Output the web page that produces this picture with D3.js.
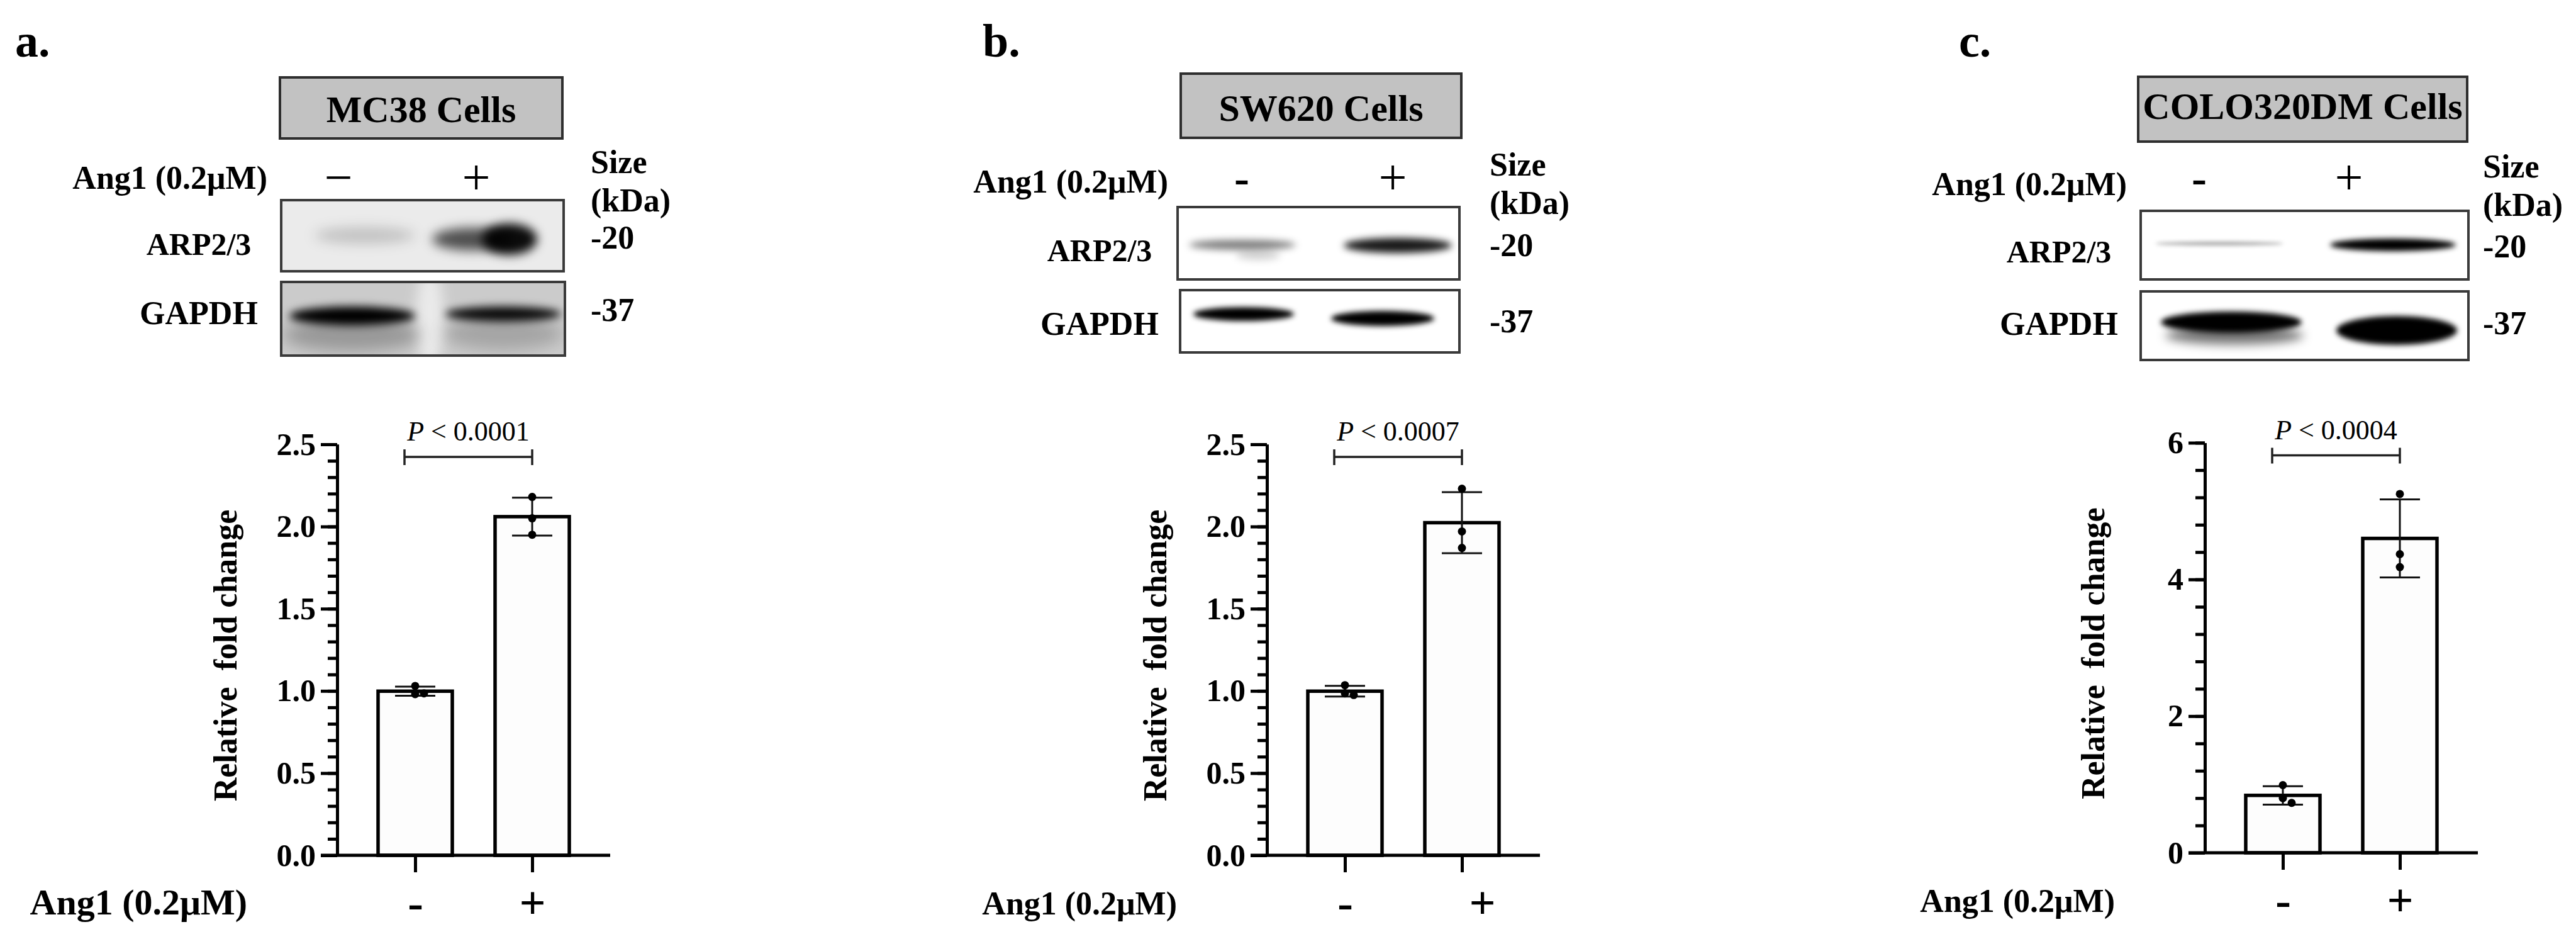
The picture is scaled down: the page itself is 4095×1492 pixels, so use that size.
<!DOCTYPE html>
<html>
<head>
<meta charset="utf-8">
<script src="https://cdn.jsdelivr.net/npm/d3@7"></script>
<style>
  body { margin: 0; background: #fff; }
  text { font-family: "Liberation Serif", "Times New Roman", serif; fill: #000; }
</style>
</head>
<body>
<div id="fig"></div>
<script>
// ---- data ----
var treatment = ["-", "+"];
var panelLetters = ["a.", "b.", "c."];
var cellLines = ["MC38 Cells", "SW620 Cells", "COLO320DM Cells"];
var pValues = ["0.0001", "0.0007", "0.0004"];
var sizeMarkers = ["-20", "-37"];
var blotRows = ["ARP2/3", "GAPDH"];
var doseLabel = "Ang1 (0.2\u03bcM)";
var yTitle = "Relative  fold change";

// replicate values (relative fold change), [control, Ang1]
var mc38Fold = [[1.03, 0.985, 0.98], [2.18, 2.05, 1.95]];
var sw620Fold = [[1.035, 0.985, 0.975], [2.23, 1.97, 1.87]];
var colo320Fold = [[0.99, 0.80, 0.73], [5.25, 4.37, 4.18]];

// y axis ticks
var mc38Ticks = [0, 0.5, 1, 1.5, 2, 2.5];
var sw620Ticks = [0, 0.5, 1, 1.5, 2, 2.5];
var colo320Ticks = [0, 2, 4, 6];

// band darkness on the blots, [control, Ang1]
var mc38Arp = [0.18, 0.95], mc38Gapdh = [1, 0.95];
var sw620Arp = [0.5, 0.9], sw620Gapdh = [1, 1];
var colo320Arp = [0.35, 1], colo320Gapdh = [1, 1];

// ---- layout ----
var W = 4095, H = 1492;
var panels = [
  { letterX: 24, axisX: 536, y0: 1359, yTop: 706, yMax: 2.5, minor: 0.1, fmt: ".1f",
    fold: mc38Fold, ticks: mc38Ticks, arp: mc38Arp, gapdh: mc38Gapdh,
    box: [445, 123, 894, 220], titleY: 194,
    laneX: [538, 757], laneSym: ["\u2212", "+"], laneBold: false,
    arpBox: [447, 318, 896, 431], gapBox: [447, 448, 898, 565],
    rowX: 316, angEnd: 425, angY: 300, arpY: 405, gapY: 515,
    sizeX: 939, sizeY: [275, 336, 395, 510],
    arpBg: "#ebebeb", gapBg: "#cbcbcb",
    arpBands: [
      { lane: 0, cx: 580, cy: 374, rx: 80, ry: 13, w: 1, blur: 10 },
      { lane: 1, cx: 752, cy: 380, rx: 65, ry: 18, w: 0.7, blur: 9 },
      { lane: 1, cx: 810, cy: 380, rx: 44, ry: 25, w: 1, blur: 8 }],
    gapBands: [
      { lane: 0, cx: 683, cy: 505, rx: 22, ry: 80, w: 0.6, blur: 10, fill: "#fff" },
      { lane: 0, cx: 560, cy: 532, rx: 110, ry: 26, w: 0.25, blur: 12 },
      { lane: 1, cx: 800, cy: 530, rx: 95, ry: 26, w: 0.2, blur: 12 },
      { lane: 0, cx: 560, cy: 502, rx: 100, ry: 15, w: 1, blur: 7 },
      { lane: 1, cx: 800, cy: 499, rx: 92, ry: 12, w: 1, blur: 7 }],
    xlabelSize: 58, plusDx: 0 },
  { letterX: 1562, axisX: 2014, y0: 1359, yTop: 706, yMax: 2.5, minor: 0.1, fmt: ".1f",
    fold: sw620Fold, ticks: sw620Ticks, arp: sw620Arp, gapdh: sw620Gapdh,
    box: [1877, 117, 2323, 219], titleY: 192,
    laneX: [1974, 2214], laneSym: ["-", "+"], laneBold: true,
    arpBox: [1872, 329, 2320, 444], gapBox: [1876, 461, 2320, 560],
    rowX: 1748, angEnd: 1857, angY: 306, arpY: 415, gapY: 532,
    sizeX: 2368, sizeY: [279, 340, 407, 528],
    arpBg: "#ffffff", gapBg: "#ffffff",
    arpBands: [
      { lane: 0, cx: 1975, cy: 389, rx: 85, ry: 8, w: 1, blur: 6 },
      { lane: 0, cx: 2000, cy: 406, rx: 35, ry: 7, w: 0.35, blur: 6 },
      { lane: 1, cx: 2222, cy: 390, rx: 86, ry: 12, w: 1, blur: 6 }],
    gapBands: [
      { lane: 0, cx: 1977, cy: 499, rx: 80, ry: 11, w: 1, blur: 4 },
      { lane: 1, cx: 2198, cy: 506, rx: 82, ry: 12, w: 1, blur: 4 }],
    xlabelSize: 52, plusDx: 32 },
  { letterX: 3114, axisX: 3505, y0: 1355, yTop: 703.5, yMax: 6, minor: 0.4, fmt: "d",
    fold: colo320Fold, ticks: colo320Ticks, arp: colo320Arp, gapdh: colo320Gapdh,
    box: [3399, 122, 3922, 225], titleY: 189,
    laneX: [3496, 3734], laneSym: ["-", "+"], laneBold: true,
    arpBox: [3403, 335, 3924, 444], gapBox: [3403, 463, 3924, 572],
    rowX: 3273, angEnd: 3381, angY: 310, arpY: 417, gapY: 532,
    sizeX: 3947, sizeY: [282, 343, 409, 531],
    arpBg: "#ffffff", gapBg: "#ffffff",
    arpBands: [
      { lane: 0, cx: 3528, cy: 387, rx: 102, ry: 3, w: 1, blur: 3 },
      { lane: 1, cx: 3804, cy: 389, rx: 100, ry: 10, w: 1, blur: 4 }],
    gapBands: [
      { lane: 0, cx: 3552, cy: 533, rx: 110, ry: 14, w: 0.55, blur: 8 },
      { lane: 0, cx: 3547, cy: 512, rx: 112, ry: 17, w: 1, blur: 4 },
      { lane: 1, cx: 3810, cy: 525, rx: 96, ry: 23, w: 1, blur: 4 }],
    xlabelSize: 52, plusDx: 0 }
];

var svg = d3.select("#fig").append("svg")
  .attr("width", W).attr("height", H);
svg.append("rect").attr("width", W).attr("height", H).attr("fill", "#fff");
var defs = svg.append("defs");

// blur filters
[3, 4, 6, 7, 8, 9, 10, 12].forEach(function (s) {
  defs.append("filter").attr("id", "blur" + s)
    .attr("x", "-50%").attr("y", "-100%").attr("width", "200%").attr("height", "300%")
    .append("feGaussianBlur").attr("stdDeviation", s);
});

function drawBlot(g, box, bg, bands, dark, id) {
  defs.append("clipPath").attr("id", id)
    .append("rect").attr("x", box[0]).attr("y", box[1])
    .attr("width", box[2] - box[0]).attr("height", box[3] - box[1]);
  g.append("rect").attr("x", box[0]).attr("y", box[1])
    .attr("width", box[2] - box[0]).attr("height", box[3] - box[1])
    .attr("fill", bg);
  var inner = g.append("g").attr("clip-path", "url(#" + id + ")");
  inner.selectAll("ellipse").data(bands).enter().append("ellipse")
    .attr("cx", function (d) { return d.cx; })
    .attr("cy", function (d) { return d.cy; })
    .attr("rx", function (d) { return d.rx; })
    .attr("ry", function (d) { return d.ry; })
    .attr("fill", function (d) { return d.fill || "#000"; })
    .attr("fill-opacity", function (d) { return d.fill ? d.w : Math.min(1, dark[d.lane] * d.w); })
    .attr("filter", function (d) { return "url(#blur" + d.blur + ")"; });
  g.append("rect").attr("x", box[0]).attr("y", box[1])
    .attr("width", box[2] - box[0]).attr("height", box[3] - box[1])
    .attr("fill", "none").attr("stroke", "#3a3a3a").attr("stroke-width", 4);
}

panels.forEach(function (p, i) {
  var g = svg.append("g");

  // panel letter
  g.append("text").attr("x", p.letterX).attr("y", 90)
    .attr("font-size", 74).attr("font-weight", "bold").text(panelLetters[i]);

  //////////
  // BLOT //
  //////////
  g.append("rect").attr("x", p.box[0]).attr("y", p.box[1])
    .attr("width", p.box[2] - p.box[0]).attr("height", p.box[3] - p.box[1])
    .attr("fill", "#c2c2c2").attr("stroke", "#2e2e2e").attr("stroke-width", 4);
  g.append("text").attr("x", (p.box[0] + p.box[2]) / 2).attr("y", p.titleY)
    .attr("text-anchor", "middle").attr("font-size", 60).attr("font-weight", "bold")
    .text(cellLines[i]);

  g.append("text").attr("x", p.angEnd).attr("y", p.angY)
    .attr("text-anchor", "end").attr("font-size", 52).attr("font-weight", "bold")
    .text(doseLabel);

  g.selectAll(".lane").data(treatment).enter().append("text")
    .attr("x", function (d, j) { return p.laneX[j]; })
    .attr("y", 285)
    .attr("dy", "0.3em")
    .attr("text-anchor", "middle")
    .attr("font-size", function (d, j) { return j === 0 && p.laneBold ? 72 : 80; })
    .attr("font-weight", function (d, j) { return j === 0 && p.laneBold ? "bold" : "normal"; })
    .text(function (d, j) { return p.laneSym[j]; });

  drawBlot(g, p.arpBox, p.arpBg, p.arpBands, p.arp, "clipA" + i);
  drawBlot(g, p.gapBox, p.gapBg, p.gapBands, p.gapdh, "clipG" + i);

  g.append("text").attr("x", p.rowX).attr("y", p.arpY)
    .attr("text-anchor", "middle").attr("font-size", 50).attr("font-weight", "bold")
    .text(blotRows[0]);
  g.append("text").attr("x", p.rowX).attr("y", p.gapY)
    .attr("text-anchor", "middle").attr("font-size", 52).attr("font-weight", "bold")
    .text(blotRows[1]);

  ["Size", "(kDa)", sizeMarkers[0], sizeMarkers[1]].forEach(function (t, k) {
    g.append("text").attr("x", p.sizeX).attr("y", p.sizeY[k])
      .attr("font-size", 52).attr("font-weight", "bold").text(t);
  });

  ///////////
  // CHART //
  ///////////
  var y = d3.scaleLinear().domain([0, p.yMax]).range([p.y0, p.yTop]);
  var x = d3.scalePoint().domain(treatment).range([p.axisX + 124, p.axisX + 310]);
  var barW = 118;

  var minorVals = d3.range(0, p.yMax + 1e-9, p.minor);
  var yMinor = g.append("g").attr("transform", "translate(" + p.axisX + ",0)")
    .call(d3.axisLeft(y).tickValues(minorVals).tickSize(15).tickSizeOuter(0).tickFormat(""));
  var yMajor = g.append("g").attr("transform", "translate(" + p.axisX + ",0)")
    .call(d3.axisLeft(y).tickValues(p.ticks).tickSize(26).tickSizeOuter(0)
      .tickPadding(8).tickFormat(d3.format(p.fmt)));
  [yMinor, yMajor].forEach(function (ax) {
    ax.selectAll("path, line").attr("stroke", "#000").attr("stroke-width", 5);
  });
  yMajor.selectAll("text").attr("font-size", 50).attr("font-weight", "bold")
    .attr("font-family", "Liberation Serif, Times New Roman, serif").attr("fill", "#000");

  // y title
  g.append("text")
    .attr("transform", "translate(" + (p.axisX - 160) + "," + ((p.y0 + p.yTop) / 2 + 9) + ") rotate(-90)")
    .attr("text-anchor", "middle").attr("font-size", 52).attr("font-weight", "bold")
    .style("white-space", "pre").text(yTitle);

  // bars
  var stats = p.fold.map(function (v) { return { mean: d3.mean(v), sd: d3.deviation(v) }; });
  g.selectAll(".bar").data(stats).enter().append("rect")
    .attr("x", function (d, j) { return x(treatment[j]) - barW / 2; })
    .attr("y", function (d) { return y(d.mean); })
    .attr("width", barW)
    .attr("height", function (d) { return p.y0 - y(d.mean); })
    .attr("fill", "#fdfdfd").attr("stroke", "#000").attr("stroke-width", 5.5);

  // x axis
  var xAxis = g.append("g").attr("transform", "translate(0," + p.y0 + ")")
    .call(d3.axisBottom(x).tickSize(27).tickSizeOuter(0));
  xAxis.select(".domain").attr("d", "M" + (p.axisX - 26) + ",0H" + (p.axisX + 434));
  xAxis.selectAll("path, line").attr("stroke", "#000").attr("stroke-width", 5);
  xAxis.selectAll("text")
    .attr("y", 100).attr("dy", 0)
    .attr("x", function (d) { return d === "+" ? p.plusDx : 0; })
    .attr("font-size", 74).attr("font-weight", "bold")
    .attr("font-family", "Liberation Serif, Times New Roman, serif").attr("fill", "#000");

  g.append("text").attr("x", p.axisX - 143).attr("y", p.y0 + 94)
    .attr("text-anchor", "end").attr("font-size", p.xlabelSize).attr("font-weight", "bold")
    .text(doseLabel);

  // error bars (mean +/- SD)
  var eg = g.selectAll(".err").data(stats).enter().append("g")
    .attr("stroke", "#111").attr("stroke-width", 3);
  eg.append("line")
    .attr("x1", function (d, j) { return x(treatment[j]); })
    .attr("x2", function (d, j) { return x(treatment[j]); })
    .attr("y1", function (d) { return y(d.mean + d.sd); })
    .attr("y2", function (d) { return y(d.mean - d.sd); });
  [1, -1].forEach(function (s) {
    eg.append("line")
      .attr("x1", function (d, j) { return x(treatment[j]) - 32; })
      .attr("x2", function (d, j) { return x(treatment[j]) + 32; })
      .attr("y1", function (d) { return y(d.mean + s * d.sd); })
      .attr("y2", function (d) { return y(d.mean + s * d.sd); });
  });

  // replicate dots, nudged sideways when they overlap
  var dots = [];
  p.fold.forEach(function (vals, j) {
    var placed = [];
    vals.forEach(function (v) {
      var cy = y(v), dx = 0;
      placed.forEach(function (q) { if (Math.abs(q.cy - cy) < 12 && q.dx === dx) dx += 14; });
      placed.push({ cy: cy, dx: dx });
      dots.push({ cx: x(treatment[j]) + dx, cy: cy });
    });
  });
  g.selectAll(".dot").data(dots).enter().append("circle")
    .attr("cx", function (d) { return d.cx; })
    .attr("cy", function (d) { return d.cy; })
    .attr("r", 6.5).attr("fill", "#000");

  // significance bracket
  var bx1 = x(treatment[0]) - 17, bx2 = x(treatment[1]), by = p.yTop + 20;
  var br = g.append("g").attr("stroke", "#222").attr("stroke-width", 3.5).attr("fill", "none");
  br.append("path").attr("d",
    "M" + bx1 + "," + (by - 12) + "V" + (by + 13) +
    "M" + bx1 + "," + by + "H" + bx2 +
    "M" + bx2 + "," + (by - 12) + "V" + (by + 13));
  var pt = g.append("text").attr("x", (bx1 + bx2) / 2).attr("y", by - 26)
    .attr("text-anchor", "middle").attr("font-size", 44);
  pt.append("tspan").attr("font-style", "italic").text("P");
  pt.append("tspan").text(" < " + pValues[i]);
});
</script>
</body>
</html>
